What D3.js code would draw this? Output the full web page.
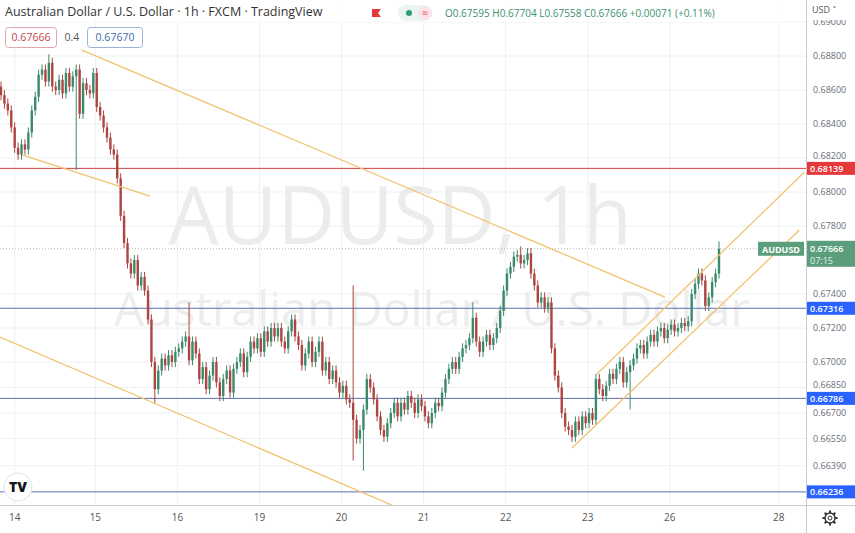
<!DOCTYPE html>
<html>
<head>
<meta charset="utf-8">
<script src="https://cdn.jsdelivr.net/npm/d3@7"></script>
<style>
  body { margin: 0; background: #fff; }
  svg { display: block; font-family: "Open Sans", "DejaVu Sans", sans-serif; }
</style>
</head>
<body>
<svg id="chart" width="855" height="533"></svg>
<script>
// hourly closes (one per candle, left to right)
const closes = [
  0.6857, 0.6852, 0.6848, 0.6838, 0.6826, 0.6822, 0.6828, 0.6825,
  0.6835, 0.6848, 0.6856, 0.6869, 0.6872, 0.6865, 0.6876, 0.6862,
  0.6860, 0.6866, 0.6858, 0.6870, 0.6862, 0.6868, 0.6872, 0.6846,
  0.6864, 0.6860, 0.6858, 0.6870, 0.6850, 0.6845, 0.6838, 0.6832,
  0.6825, 0.6822, 0.6808, 0.6786, 0.6770, 0.6758, 0.6752, 0.6760,
  0.6745, 0.6750, 0.6742, 0.6725, 0.6700, 0.6684, 0.6695, 0.6702,
  0.6698, 0.6704, 0.6700, 0.6706, 0.6708, 0.6712, 0.6715, 0.6701,
  0.6712, 0.6705, 0.6690, 0.6697, 0.6684, 0.6692, 0.6700, 0.6688,
  0.6680, 0.6690, 0.6695, 0.6682, 0.6696, 0.6700, 0.6705, 0.6694,
  0.6703, 0.6712, 0.6708, 0.6714, 0.6706, 0.6718, 0.6712, 0.6720,
  0.6715, 0.6720, 0.6712, 0.6708, 0.6718, 0.6725, 0.6715, 0.6710,
  0.6698, 0.6705, 0.6712, 0.6700, 0.6706, 0.6712, 0.6695, 0.6700,
  0.6690, 0.6695, 0.6688, 0.6682, 0.6686, 0.6678, 0.6676, 0.6666,
  0.6655, 0.6660, 0.6672, 0.6690, 0.6685, 0.6678, 0.6668, 0.6660,
  0.6656, 0.6664, 0.6670, 0.6676, 0.6668, 0.6676, 0.6672, 0.6680,
  0.6676, 0.6670, 0.6678, 0.6674, 0.6668, 0.6664, 0.6670, 0.6676,
  0.6674, 0.6682, 0.6690, 0.6696, 0.6700, 0.6696, 0.6703, 0.6708,
  0.6710, 0.6714, 0.6726, 0.6712, 0.6706, 0.6712, 0.6716, 0.6710,
  0.6714, 0.6720, 0.6730, 0.6742, 0.6752, 0.6756, 0.6762, 0.6763,
  0.6758, 0.6760, 0.6764, 0.6752, 0.6745, 0.6735, 0.6738, 0.6732,
  0.6735, 0.6708, 0.6692, 0.6685, 0.6670, 0.6662, 0.6660, 0.6656,
  0.6665, 0.6660, 0.6668, 0.6664, 0.6670, 0.6666, 0.6690, 0.6684,
  0.6680, 0.6686, 0.6693, 0.6690, 0.6696, 0.6700, 0.6688, 0.6694,
  0.6698, 0.6702, 0.6708, 0.6710, 0.6705, 0.6712, 0.6716, 0.6712,
  0.6718, 0.6720, 0.6714, 0.6719, 0.6722, 0.6718, 0.6720, 0.6723,
  0.6721, 0.6724, 0.6740, 0.6746, 0.6752, 0.6748, 0.6733, 0.6738,
  0.6747, 0.6752, 0.67666
]
const firstOpen = 0.6862
const normalWick = 0.0003
// [candle, high, low] for the long wicks
const longWicks = [
  [14, 0.6881, null], [22, null, 0.6813], [45, null, 0.6676], [55, 0.6735, null],
  [103, 0.6745, 0.6642], [106, null, 0.6636], [138, 0.6735, null], [152, 0.6768, null],
  [184, null, 0.6672], [210, 0.6771, null]
]

const priceTicks = [0.69, 0.688, 0.686, 0.684, 0.682, 0.68, 0.678, 0.674, 0.672, 0.670, 0.6685, 0.667, 0.6655, 0.6639]
const dayLabels = ['14', '15', '16', '19', '20', '21', '22', '23', '26', '28']
const dayStarts = [4, 27.6, 51.6, 75.6, 99.6, 123.6, 147.6, 171.6, 195.6, 227.5]

const levels = [
  { price: 0.68139, color: '#c9403f', box: '#e5383b' },
  { price: 0.67316, color: '#5a6fb0', box: '#2962ff' },
  { price: 0.66786, color: '#5a6fb0', box: '#2962ff' },
  { price: 0.66236, color: '#5a6fb0', box: '#2962ff' }
]
// trendlines as [candle, price] pairs
const trendlines = [
  [[23.7, 0.68835], [194.2, 0.67382]],
  [[6.1, 0.68218], [43.6, 0.67976]],
  [[-0.3, 0.67147], [114.9, 0.66153]],
  [[167, 0.66494], [233.5, 0.67776]],
  [[174.3, 0.66929], [235, 0.68118]]
]
const lastPrice = 0.67666

const plotW = 806, plotH = 505
const svg = d3.select('#chart')

const x = d3.scaleLinear().domain([0, 210]).range([1, 719])
const y = d3.scaleLinear().domain([0.674, 0.688]).range([294, 56])

const candles = closes.map((c, i) => {
  const o = i === 0 ? firstOpen : closes[i - 1]
  let h = Math.max(o, c) + normalWick
  let l = Math.min(o, c) - normalWick
  const w = longWicks.find(d => d[0] === i)
  if (w) {
    if (w[1] != null) h = w[1]
    if (w[2] != null) l = w[2]
  }
  return { i, o, c, h, l }
})

const plot = svg.append('g')
plot.append('clipPath').attr('id', 'clip')
  .append('rect').attr('width', plotW).attr('height', plotH)

// grid
const grid = plot.append('g').attr('clip-path', 'url(#clip)')
grid.selectAll('line.h').data(priceTicks).join('line')
  .attr('x1', 0).attr('x2', plotW)
  .attr('y1', d => y(d)).attr('y2', d => y(d))
  .attr('stroke', '#eef0f3')
grid.selectAll('line.v').data(dayStarts).join('line')
  .attr('x1', d => x(d)).attr('x2', d => x(d))
  .attr('y1', 0).attr('y2', plotH)
  .attr('stroke', '#eef0f3')

// watermark
plot.append('text').attr('x', 400).attr('y', 244).attr('text-anchor', 'middle')
  .attr('font-size', 80).attr('fill', '#ececec').text('AUDUSD, 1h')
plot.append('text').attr('x', 432).attr('y', 326).attr('text-anchor', 'middle')
  .attr('font-size', 47).attr('fill', '#ededed').text('Australian Dollar / U.S. Dollar')

// horizontal levels
plot.selectAll('line.level').data(levels).join('line')
  .attr('x1', 0).attr('x2', plotW)
  .attr('y1', d => y(d.price)).attr('y2', d => y(d.price))
  .attr('stroke', d => d.color).attr('stroke-width', 1)
plot.append('line').attr('x1', 0).attr('x2', plotW)
  .attr('y1', y(lastPrice)).attr('y2', y(lastPrice))
  .attr('stroke', '#b8b8b8').attr('stroke-dasharray', '1,2')

// candles
const cg = plot.append('g').attr('clip-path', 'url(#clip)')
const up = '#3b8a6c', down = '#ad4540'
cg.selectAll('line.wick').data(candles).join('line')
  .attr('x1', d => x(d.i)).attr('x2', d => x(d.i))
  .attr('y1', d => y(d.h)).attr('y2', d => y(d.l))
  .attr('stroke', d => d.c >= d.o ? up : down).attr('stroke-width', 1)
cg.selectAll('rect.body').data(candles).join('rect')
  .attr('x', d => x(d.i) - 1.2).attr('width', 2.4)
  .attr('y', d => y(Math.max(d.o, d.c)))
  .attr('height', d => Math.max(1, Math.abs(y(d.o) - y(d.c))))
  .attr('fill', d => d.c >= d.o ? up : down)

// trendlines
plot.append('g').attr('clip-path', 'url(#clip)')
  .selectAll('line').data(trendlines).join('line')
  .attr('x1', d => x(d[0][0])).attr('y1', d => y(d[0][1]))
  .attr('x2', d => x(d[1][0])).attr('y2', d => y(d[1][1]))
  .attr('stroke', '#f1c370').attr('stroke-width', 1.3)

// right axis
svg.append('line').attr('x1', plotW + 0.5).attr('x2', plotW + 0.5).attr('y1', 0).attr('y2', 533).attr('stroke', '#c8cbd0')
svg.append('line').attr('x1', 0).attr('x2', 855).attr('y1', plotH + 0.5).attr('y2', plotH + 0.5).attr('stroke', '#c8cbd0')
const yAxis = svg.append('g').attr('transform', `translate(${plotW},0)`)
  .call(d3.axisRight(y).tickValues(priceTicks).tickFormat(d3.format('.5f')).tickSize(0).tickPadding(7))
yAxis.select('.domain').remove()
yAxis.selectAll('text').attr('fill', '#6a6d78').attr('font-size', 9)
  .attr('dy', d => (d === 0.682 || d === 0.6685) ? '0.05em' : '0.32em')
  .attr('font-family', '"Open Sans", sans-serif')
svg.append('rect').attr('x', plotW + 1).attr('y', 0).attr('width', 48).attr('height', 20).attr('fill', '#fff')
svg.append('text').attr('x', 812).attr('y', 13).attr('font-size', 9).attr('fill', '#555').text('USD ˅')

levels.forEach(d => {
  svg.append('rect').attr('x', plotW + 1).attr('y', y(d.price) - 6.5).attr('width', 48).attr('height', 13).attr('fill', d.box)
  svg.append('text').attr('x', 810).attr('y', y(d.price) + 3.5).attr('font-size', 9).attr('font-weight', 600)
    .attr('fill', '#fff').text(d3.format('.5f')(d.price))
})
svg.append('rect').attr('x', plotW + 1).attr('y', y(lastPrice) - 8).attr('width', 48).attr('height', 26).attr('fill', '#5b9e7b')
svg.append('text').attr('x', 810).attr('y', y(lastPrice) + 3).attr('font-size', 9).attr('font-weight', 600)
  .attr('fill', '#fff').text(d3.format('.5f')(lastPrice))
svg.append('text').attr('x', 810).attr('y', y(lastPrice) + 15).attr('font-size', 9)
  .attr('fill', '#e6f2eb').text('07:15')
svg.append('rect').attr('x', 758).attr('y', y(lastPrice) - 7).attr('width', 46).attr('height', 14).attr('fill', '#5b9e7b')
svg.append('text').attr('x', 781).attr('y', y(lastPrice) + 4).attr('text-anchor', 'middle').attr('font-size', 9)
  .attr('font-weight', 700).attr('fill', '#fff').text('AUDUSD')

// bottom axis
svg.selectAll('text.day').data(dayLabels).join('text')
  .attr('x', (d, i) => x(dayStarts[i])).attr('y', 521).attr('text-anchor', 'middle')
  .attr('font-size', 10).attr('fill', '#555').text(d => d)

// gear
const gear = svg.append('g').attr('transform', 'translate(830,518)')
gear.append('circle').attr('r', 5).attr('fill', 'none').attr('stroke', '#333').attr('stroke-width', 1.4)
gear.selectAll('line').data(d3.range(8)).join('line')
  .attr('x1', 0).attr('y1', -5).attr('x2', 0).attr('y2', -7.5)
  .attr('transform', d => `rotate(${d * 45})`).attr('stroke', '#333').attr('stroke-width', 2)
gear.append('circle').attr('r', 2).attr('fill', '#fff').attr('stroke', '#333')

// logo
const logo = svg.append('g').attr('transform', 'translate(18,487)')
logo.append('circle').attr('r', 14).attr('fill', '#fff').attr('stroke', '#e2e3e6')
logo.append('text').attr('x', 0).attr('y', 5).attr('text-anchor', 'middle').attr('font-size', 14)
  .attr('font-weight', 900).attr('fill', '#131722').text('TV')

// header
svg.append('rect').attr('x', 0).attr('y', 0).attr('width', 780).attr('height', 22).attr('fill', '#fff').attr('opacity', 0.85)
svg.append('text').attr('x', 5).attr('y', 16).attr('font-size', 12.5).attr('fill', '#333')
  .text('Australian Dollar / U.S. Dollar · 1h · FXCM · TradingView')
svg.append('path').attr('d', 'M372,9h9l-3,4l3,4h-9z').attr('fill', '#e5383b')
svg.append('rect').attr('x', 398).attr('y', 5).attr('width', 34).attr('height', 16).attr('rx', 8).attr('fill', '#eaf4f1')
svg.append('circle').attr('cx', 409).attr('cy', 13).attr('r', 3).attr('fill', '#2f9c78')
svg.append('rect').attr('x', 418).attr('y', 6).attr('width', 14).attr('height', 14).attr('rx', 7).attr('fill', '#fbe3e6')
svg.append('text').attr('x', 425).attr('y', 17).attr('text-anchor', 'middle').attr('font-size', 11).attr('fill', '#e0526a').text('≈')
svg.append('text').attr('x', 445).attr('y', 17).attr('font-size', 10).attr('fill', '#3a9170')
  .text('O0.67595 H0.67704 L0.67558 C0.67666 +0.00071 (+0.11%)')

svg.append('rect').attr('x', 5.5).attr('y', 27.5).attr('width', 51).attr('height', 20).attr('rx', 3)
  .attr('fill', '#fff').attr('stroke', '#e2a7aa')
svg.append('text').attr('x', 31).attr('y', 41).attr('text-anchor', 'middle').attr('font-size', 10.5).attr('fill', '#c4454a').text('0.67666')
svg.append('text').attr('x', 72).attr('y', 41).attr('text-anchor', 'middle').attr('font-size', 10.5).attr('fill', '#555').text('0.4')
svg.append('rect').attr('x', 87.5).attr('y', 27.5).attr('width', 55).attr('height', 20).attr('rx', 3)
  .attr('fill', '#fff').attr('stroke', '#9ab3d8')
svg.append('text').attr('x', 115).attr('y', 41).attr('text-anchor', 'middle').attr('font-size', 10.5).attr('fill', '#3e6ab0').text('0.67670')
</script>
</body>
</html>
